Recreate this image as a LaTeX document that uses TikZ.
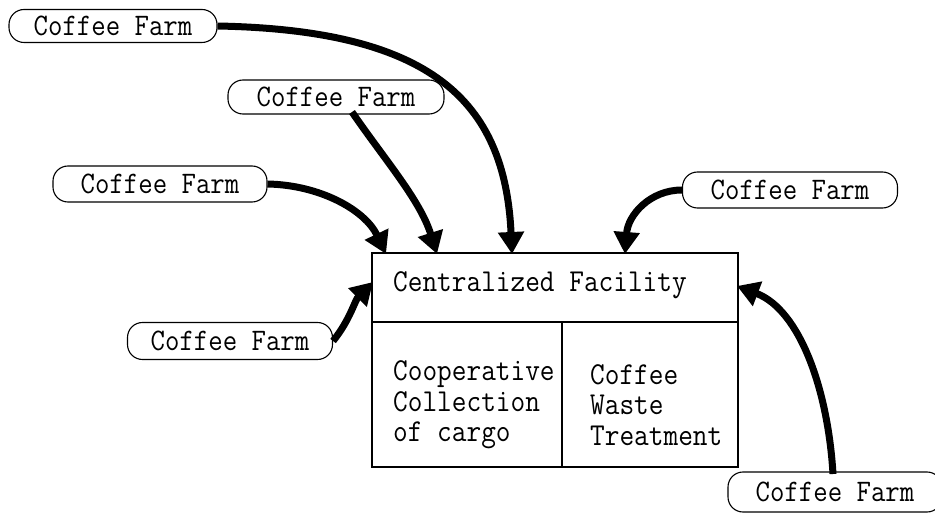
\documentclass[tikz,border=0pt]{standalone}
\usetikzlibrary{arrows.meta}
\newcommand{\tall}[1]{\scalebox{1}[1.12]{#1}}
\begin{document}
\begin{tikzpicture}[x=1pt,y=-1pt,
  farm/.style={draw,line width=1.1pt,rounded corners=15pt,inner sep=0pt,
    font=\fontsize{28}{30}\ttfamily},
  txt/.style={anchor=west,align=left,inner sep=0pt,font=\fontsize{28.5}{30.5}\ttfamily},
  flow/.style={line width=7pt,-{Triangle[length=22pt,width=25pt]}}]
\useasboundingbox (0,0) rectangle (935,513);
% facility box
\node[draw,line width=1.3pt,minimum width=366pt,minimum height=214pt,inner sep=0pt] (fac) at (555,360) {};
\coordinate (dl) at (372,322);
\coordinate (dr) at (738,322);
\coordinate (vt) at (562,322);
\coordinate (vb) at (562,467);
\draw[line width=1.3pt] (dl) -- (dr);
\draw[line width=1.3pt] (vt) -- (vb);
\node[txt] (cf) at (393,285) {\tall{Centralized Facility}};
\node[txt] (cc) at (393,405) {\tall{Cooperative}\\\tall{Collection}\\\tall{of cargo}};
\node[txt] (cw) at (590,405) {\tall{Coffee}\\\tall{Waste}\\\tall{Treatment}};
% farms
\node[farm,minimum width=208pt,minimum height=33pt] (f1) at (113,26) {\tall{Coffee Farm}};
\node[farm,minimum width=216pt,minimum height=34pt] (f2) at (336,97) {\tall{Coffee Farm}};
\node[farm,minimum width=214pt,minimum height=36pt] (f3) at (160,184) {\tall{Coffee Farm}};
\node[farm,minimum width=205pt,minimum height=37pt] (f4) at (230,341) {\tall{Coffee Farm}};
\node[farm,minimum width=215pt,minimum height=36pt] (f5) at (790,190) {\tall{Coffee Farm}};
\node[farm,minimum width=214pt,minimum height=40pt] (f6) at (835,492) {\tall{Coffee Farm}};
% arrow targets
\coordinate (t1) at (512,254);
\coordinate (t2) at (437,254);
\coordinate (t3) at (386,254);
\coordinate (t4) at (373,282);
\coordinate (t5) at (625,254);
\coordinate (t6) at (737,286);
\coordinate (s2) at (352,112);
\coordinate (s6) at (833,474);
% arrows
\draw[flow] (f1.east) .. controls (430,30) and (505,100) .. (t1);
\draw[flow] (s2) .. controls (385,160) and (420,200) .. (t2);
\draw[flow] (f3.east) .. controls (320,185) and (365,210) .. (t3);
\draw[flow] (f4.east) .. controls (350,320) and (355,300) .. (t4);
\draw[flow] (f5.west) .. controls (650,190) and (628,215) .. (t5);
\draw[flow] (s6) .. controls (828,390) and (800,310) .. (t6);
\end{tikzpicture}
\end{document}
